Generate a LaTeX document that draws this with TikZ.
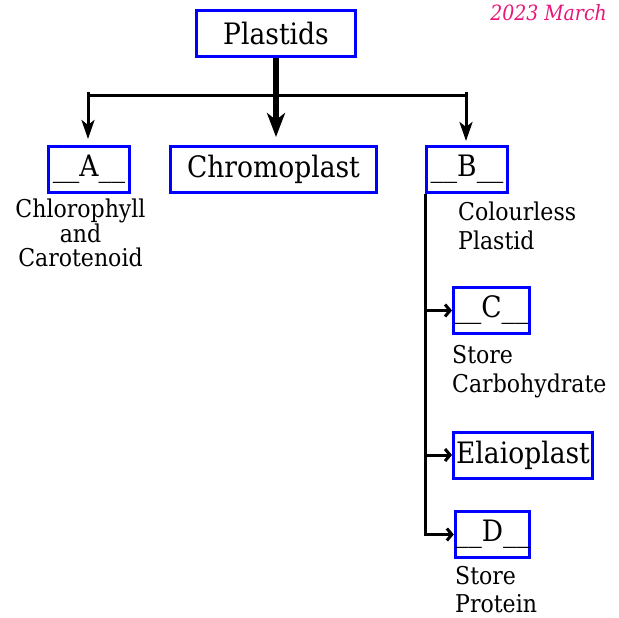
\documentclass[tikz,border=0pt]{standalone}
\usepackage{fontspec}
\setmainfont{DejaVu Serif}[FakeStretch=0.9]
\usetikzlibrary{arrows.meta}

\definecolor{yearpink}{RGB}{232,22,122}
\tikzset{
  plastidbox/.style={draw=blue, line width=3pt, minimum height=46pt, inner sep=0pt, font=\fontsize{29.5}{31}\selectfont},
  labeltext/.style={inner sep=0pt, font=\fontsize{24.5}{29}\selectfont, align=left},
  stem/.style={line width=5.5pt, -{Stealth[length=24pt, width=18pt, inset=7pt]}},
  branch/.style={line width=3pt, -{Stealth[length=19pt, width=13pt, inset=5pt]}},
  sidebranch/.style={line width=3pt, -{Straight Barb[length=5pt, width=12pt]}},
}

\begin{document}
\begin{tikzpicture}[x=1pt, y=-1pt]
        \useasboundingbox (0,0) rectangle (619,618);

        % Year tag
        \node[anchor=base east, inner sep=0pt, text=yearpink, font=\fontsize{21}{24}\selectfont\itshape] (year) at (607,21) {2023 March};

        % Top box
        \node[plastidbox, minimum width=159pt] (plastids) at (276,33.5) {Plastids};

        % First row
        \node[plastidbox, minimum width=81pt] (A) at (89,169.5) {\_\_A\_\_};
        \node[plastidbox, minimum width=206pt] (chromo) at (273.5,169.5) {Chromoplast};
        \node[plastidbox, minimum width=81pt] (B) at (467,169.5) {\_\_B\_\_};

        % Right column
        \node[plastidbox, minimum width=76pt] (C) at (491.5,310.5) {\_\_C\_\_};
        \node[plastidbox, minimum width=139pt] (elaio) at (523,455) {Elaioplast};
        \node[plastidbox, minimum width=74pt] (D) at (492.5,534.5) {\_\_D\_\_};

        % Labels
        \node[labeltext, align=center, anchor=north, font=\fontsize{24.5}{23.5}\selectfont] (Alabel) at (80.5,199) {Chlorophyll\\and\\Carotenoid};
        \node[labeltext, anchor=north west] (Blabel) at (458,202) {Colourless\\Plastid};
        \node[labeltext, anchor=north west] (Clabel) at (452,345) {Store\\Carbohydrate};
        \node[labeltext, anchor=north west, font=\fontsize{24.5}{28}\selectfont] (Dlabel) at (455,566) {Store\\Protein};

        % Bar and arrows
        \coordinate (barL) at (88,96);
        \coordinate (barR) at (466,96);
        \draw[line width=3pt] (barL) -- (barR);
        \draw[stem, shorten >=8pt] (plastids.south) -- (plastids.south |- chromo.north);
        \draw[branch, shorten >=6pt] ([yshift=4pt]barL) -- (barL |- A.north);
        \draw[branch, shorten >=4pt] ([yshift=4pt]barR) -- (barR |- B.north);

        % Trunk under B
        \draw[sidebranch] (B.south west) |- (D.west);
        \draw[sidebranch] (B.south west |- C.west) -- (C.west);
        \draw[sidebranch] (B.south west |- elaio.west) -- (elaio.west);
    \end{tikzpicture}
\end{document}
